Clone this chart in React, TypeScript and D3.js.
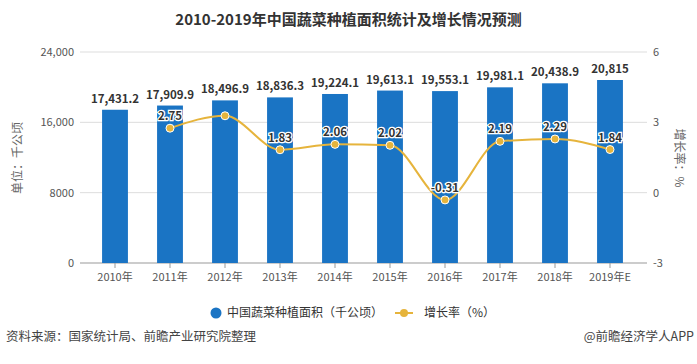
import * as d3 from "d3";
import React from "react";

const years = ["2010年", "2011年", "2012年", "2013年", "2014年", "2015年", "2016年", "2017年", "2018年", "2019年E"];
const area = [17431.2, 17909.9, 18496.9, 18836.3, 19224.1, 19613.1, 19553.1, 19981.1, 20438.9, 20815];
const growth = [null, 2.75, 3.28, 1.83, 2.06, 2.02, -0.31, 2.19, 2.29, 1.84];
const growthLabelShown = [false, true, false, true, true, true, true, true, true, true];
const leftTicks = [0, 8000, 16000, 24000];
const rightTicks = [-3, 0, 3, 6];

const W = 697;
const H = 364;
const FONT = "'Noto Sans CJK SC', 'Noto Sans', sans-serif";
const BLUE = "#1a74c4";
const GOLD = "#e6b43c";

const App = () => {
  const x = d3.scaleBand<string>().domain(years).range([87.5, 637.5]).paddingInner(0.53).paddingOuter(0.265);
  const yL = d3.scaleLinear([0, 24000], [263, 52]);
  const yR = d3.scaleLinear([-3, 6], [263, 52]);
  const cx = (i: number) => (x(years[i]) ?? 0) + x.bandwidth() / 2;
  const pts = growth
    .map((g, i) => (g == null ? null : ([cx(i), yR(g)] as [number, number])))
    .filter((p): p is [number, number] => p != null);
  const line = d3.line().curve(d3.curveMonotoneX)(pts) ?? undefined;
  const fmtL = (v: number) => (v >= 10000 ? d3.format(",")(v) : String(v));

  return (
    <svg width={W} height={H} style={{ position: "fixed", left: 0, top: 0, background: "#fff" }} fontFamily={FONT}>
      <text x={W / 2} y={25} textAnchor="middle" fontSize={15} fontWeight="bold" fill="#333">
        2010-2019年中国蔬菜种植面积统计及增长情况预测
      </text>
      {/* grid + axes */}
      {leftTicks.map((t) => (
        <g key={t}>
          <line x1={80} x2={647} y1={yL(t)} y2={yL(t)} stroke={t === 0 ? "#999" : "#ddd"} />
          <text x={74} y={yL(t) + 4} textAnchor="end" fontSize={11} fill="#555">{fmtL(t)}</text>
        </g>
      ))}
      {rightTicks.map((t) => (
        <text key={t} x={653} y={yR(t) + 4} textAnchor="start" fontSize={11} fill="#555">{t}</text>
      ))}
      {years.map((y, i) => (
        <g key={y}>
          <line x1={cx(i)} x2={cx(i)} y1={263} y2={268} stroke="#999" />
          <text x={cx(i)} y={281} textAnchor="middle" fontSize={11} fill="#555">{y}</text>
        </g>
      ))}
      <text transform="translate(22,158) rotate(-90)" textAnchor="middle" fontSize={12} fill="#666">单位：千公顷</text>
      <text transform="translate(675,158) rotate(90)" textAnchor="middle" fontSize={12} fill="#666">增长率：%</text>
      {/* bars */}
      {area.map((v, i) => (
        <g key={i}>
          <rect x={x(years[i])} y={yL(v)} width={x.bandwidth()} height={263 - yL(v)} fill={BLUE} />
          <text x={cx(i)} y={yL(v) - 7} textAnchor="middle" fontSize={11.5} fontWeight="bold" fill="#333">
            {d3.format(",")(v)}
          </text>
        </g>
      ))}
      {/* line */}
      <path d={line} fill="none" stroke={GOLD} strokeWidth={2} />
      {growth.map((g, i) =>
        g == null ? null : (
          <g key={i}>
            <circle cx={cx(i)} cy={yR(g)} r={4} fill={GOLD} stroke="#fff" strokeWidth={1} />
            {growthLabelShown[i] && (
              <text x={cx(i)} y={yR(g) - 8} textAnchor="middle" fontSize={11.5} fontWeight="bold" fill="#333"
                stroke="#fff" strokeWidth={2.5} paintOrder="stroke">
                {g.toFixed(2)}
              </text>
            )}
          </g>
        )
      )}
      {/* legend */}
      <circle cx={216} cy={313} r={5.5} fill={BLUE} />
      <text x={227} y={317} fontSize={12} fill="#333">中国蔬菜种植面积（千公顷）</text>
      <line x1={395} x2={413} y1={313} y2={313} stroke={GOLD} strokeWidth={2} />
      <circle cx={404} cy={313} r={4} fill={GOLD} />
      <text x={424} y={317} fontSize={12} fill="#333">增长率（%）</text>
      {/* footer */}
      <text x={6} y={341} fontSize={12.5} fill="#444">资料来源：国家统计局、前瞻产业研究院整理</text>
      <text x={694} y={341} textAnchor="end" fontSize={12.5} fill="#444">@前瞻经济学人APP</text>
    </svg>
  );
};

export default App;
